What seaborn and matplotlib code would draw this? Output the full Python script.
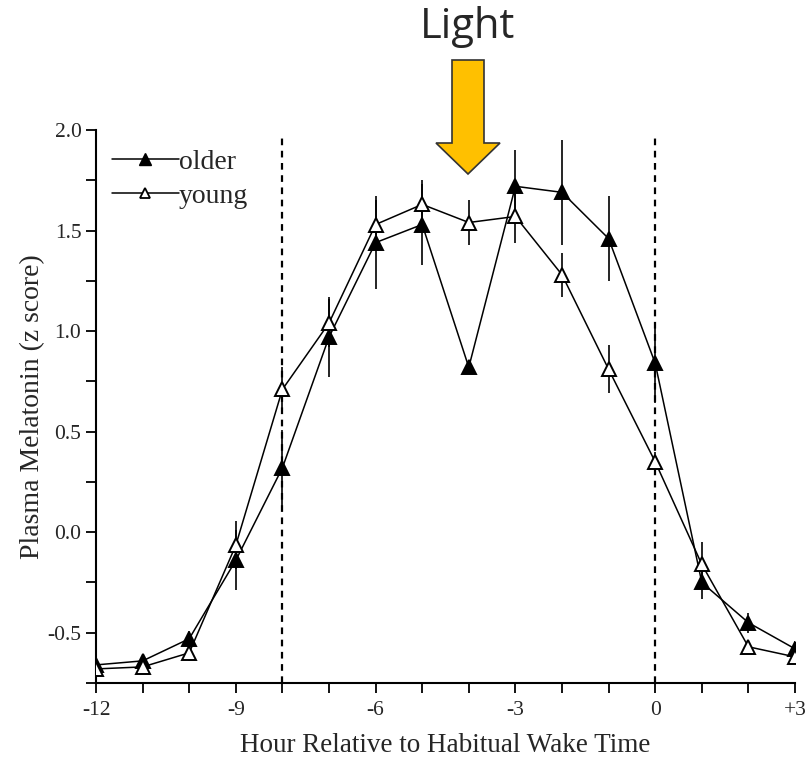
import numpy as np
import pandas as pd
import matplotlib
matplotlib.use("Agg")
import matplotlib.pyplot as plt
import seaborn as sns
from matplotlib.lines import Line2D
from matplotlib.patches import Polygon

hours = [-12, -11, -10, -9, -8, -7, -6, -5, -4, -3, -2, -1, 0, 1, 2, 3]
older = [-0.66, -0.64, -0.53, -0.14, 0.32, 0.97, 1.44, 1.53, 0.82, 1.72, 1.69, 1.46, 0.84, -0.25, -0.45, -0.58]
young = [-0.68, -0.67, -0.60, -0.065, 0.71, 1.04, 1.53, 1.63, 1.54, 1.57, 1.28, 0.81, 0.35, -0.16, -0.57, -0.62]
older_err = [0.02, 0.03, 0.04, 0.15, 0.19, 0.20, 0.23, 0.20, 0.00, 0.18, 0.26, 0.21, 0.20, 0.08, 0.05, 0.04]
young_err = [0.02, 0.02, 0.04, 0.12, 0.11, 0.12, 0.12, 0.12, 0.11, 0.13, 0.11, 0.12, 0.05, 0.11, 0.03, 0.03]
xticks = [-12, -9, -6, -3, 0, 3]
xtick_labels = ["-12", "-9", "-6", "-3", "0", "+3"]
yticks = [-0.5, 0.0, 0.5, 1.0, 1.5, 2.0]
ytick_labels = ["-0.5", "0.0", "0.5", "1.0", "1.5", "2.0"]
dashed_x = [-8, 0]

sns.set_style("ticks")
plt.rcParams['font.family'] = ['Liberation Serif', 'DejaVu Serif']

fig = plt.figure(figsize=(8.05, 7.57), dpi=100)
ax = fig.add_axes([96/805, 1-683/757, (795-96)/805, (683-130)/757])

df = pd.DataFrame({"hour": hours * 2,
                   "z": older + young,
                   "err": older_err + young_err,
                   "group": ["older"] * len(hours) + ["young"] * len(hours)})

for grp, fc in [("older", "black"), ("young", "white")]:
    d = df[df.group == grp]
    ax.errorbar(d.hour, d.z, yerr=d.err, fmt="none", ecolor="black", elinewidth=1.2, capsize=0, zorder=2)
    sns.lineplot(data=d, x="hour", y="z", ax=ax, color="black", linewidth=1.1,
                 marker="^", markersize=10, markerfacecolor=fc, markeredgecolor="black",
                 markeredgewidth=1.4, zorder=3, legend=False)

for xv in dashed_x:
    ax.axvline(xv, color="black", linestyle=(0, (3, 2.5)), linewidth=1.6, ymax=0.99, zorder=1)

ax.set_xlim(-12, 3)
ax.set_ylim(-0.75, 2.0)
ax.set_xticks(xticks)
ax.set_xticklabels(xtick_labels)
ax.set_xticks(range(-12, 4), minor=True)
ax.set_yticks(yticks)
ax.set_yticklabels(ytick_labels)
ax.set_yticks(np.arange(-0.75, 2.01, 0.25), minor=True)
ax.tick_params(axis="both", which="both", direction="out", length=7, width=1.3, labelsize=15.5, color="black")
ax.tick_params(axis="x", pad=6)
for s in ["left", "bottom"]:
    ax.spines[s].set_linewidth(1.5)
    ax.spines[s].set_color("black")
sns.despine(ax=ax)

ax.set_xlabel("Hour Relative to Habitual Wake Time", fontsize=19.5, labelpad=9)
ax.set_ylabel("Plasma Melatonin (z score)", fontsize=20, labelpad=2)

handles = [Line2D([0], [0], color="black", lw=1.1, marker="^", markersize=8, markerfacecolor="black", markeredgecolor="black"),
           Line2D([0], [0], color="black", lw=1.1, marker="^", markersize=6.5, markerfacecolor="white", markeredgecolor="black", markeredgewidth=1.3)]
ax.legend(handles, ["older", "young"], loc="upper left", bbox_to_anchor=(-0.005, 1.0), frameon=False,
          fontsize=20, handlelength=2.4, handletextpad=0.0, labelspacing=0.3, borderaxespad=0.3)

# Light arrow annotation (figure pixel coords)
W, H = 805, 757
pts = [(452, 60), (484, 60), (484, 143), (500, 143), (468, 174), (436, 143), (452, 143)]
poly = Polygon([(x / W, 1 - y / H) for x, y in pts], closed=True, transform=fig.transFigure,
               facecolor="#FFC000", edgecolor="#333333", linewidth=1.2)
fig.patches.append(poly)
fig.text(468 / W, 1 - 27 / H, "Light", ha="center", va="center", fontsize=30,
         family=["Open Sans", "DejaVu Sans"])

fig.savefig("out.png", dpi=100)
